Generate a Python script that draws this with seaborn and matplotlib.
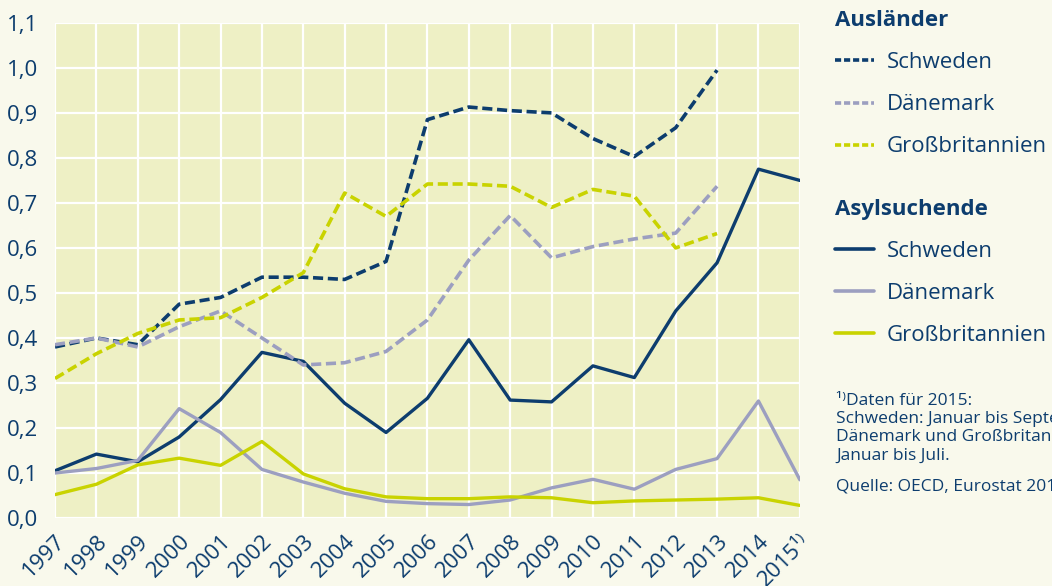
import pandas as pd
import matplotlib.pyplot as plt
import seaborn as sns
from matplotlib.lines import Line2D

sns.set_theme(style="white")
plt.rcParams['font.family'] = ['Open Sans', 'DejaVu Sans']

# Daten
jahre = list(range(1997, 2016))
jahre_labels = [str(j) for j in range(1997, 2015)] + ['2015¹⁾']

# Ausländer (bis 2013)
aus_schweden = [0.38, 0.40, 0.385, 0.475, 0.49, 0.535, 0.535, 0.53, 0.57, 0.885, 0.913, 0.905, 0.90, 0.843, 0.803, 0.867, 0.995]
aus_daenemark = [0.385, 0.40, 0.38, 0.425, 0.46, 0.40, 0.34, 0.345, 0.37, 0.44, 0.573, 0.672, 0.578, 0.603, 0.62, 0.633, 0.737]
aus_gb = [0.31, 0.365, 0.41, 0.44, 0.445, 0.49, 0.545, 0.722, 0.67, 0.742, 0.742, 0.737, 0.69, 0.73, 0.715, 0.60, 0.632]

# Asylsuchende (bis 2015)
asyl_schweden = [0.105, 0.142, 0.125, 0.18, 0.263, 0.368, 0.348, 0.255, 0.19, 0.266, 0.396, 0.262, 0.258, 0.338, 0.312, 0.46, 0.567, 0.775, 0.75]
asyl_daenemark = [0.10, 0.11, 0.128, 0.243, 0.19, 0.108, 0.08, 0.055, 0.037, 0.032, 0.03, 0.04, 0.067, 0.086, 0.064, 0.108, 0.132, 0.26, 0.085]
asyl_gb = [0.052, 0.075, 0.118, 0.133, 0.117, 0.17, 0.098, 0.065, 0.047, 0.043, 0.043, 0.047, 0.045, 0.034, 0.038, 0.040, 0.042, 0.045, 0.028]

laender = ['Schweden', 'Dänemark', 'Großbritannien']
farben = {'Schweden': '#0d3d6e', 'Dänemark': '#9c9fc0', 'Großbritannien': '#c9d300'}
navy = '#0d3d6e'

fig = plt.figure(figsize=(10.52, 5.86), dpi=100, facecolor='#f9f9ec')
ax = fig.add_axes([0.0523, 0.116, 0.708, 0.845])
ax.set_facecolor('#eef0c5')

aus_reihen = [aus_schweden, aus_daenemark, aus_gb]
asyl_reihen = [asyl_schweden, asyl_daenemark, asyl_gb]

for land, werte in zip(laender, asyl_reihen):
    sns.lineplot(x=jahre[:len(werte)], y=werte, ax=ax, color=farben[land], lw=2.4, zorder=3)
for land, werte in zip(laender, aus_reihen):
    sns.lineplot(x=jahre[:len(werte)], y=werte, ax=ax, color=farben[land], lw=2.6, zorder=4)
    ax.lines[-1].set_dashes((2.8, 1.3))

ax.set_xlim(1997, 2015)
ax.set_ylim(0, 1.1)
ax.set_xticks(jahre)
ax.set_xticklabels(jahre_labels, rotation=45, ha='right', va='top', rotation_mode='anchor')
yt = [i / 10 for i in range(12)]
ax.set_yticks(yt)
ax.set_yticklabels([f'{v:.1f}'.replace('.', ',') for v in yt])
ax.grid(True, color='white', lw=1.6)
ax.set_axisbelow(True)
for s in ax.spines.values():
    s.set_visible(False)
ax.tick_params(length=0, labelsize=16, colors=navy, pad=12)
ax.tick_params(axis='x', pad=9)

# Legenden
def handles(gestrichelt):
    if gestrichelt:
        return [Line2D([], [], color=farben[l], lw=2.6, dashes=(1.7, 0.8)) for l in laender]
    return [Line2D([], [], color=farben[l], lw=2.6) for l in laender]

opts = dict(loc='upper left', frameon=False, alignment='left', fontsize=16,
            title_fontproperties={'weight': 'bold', 'size': 16}, labelcolor=navy,
            handlelength=1.75, handletextpad=0.6, labelspacing=0.95, borderaxespad=0)
leg1 = fig.legend(handles(True), laender, bbox_to_anchor=(0.785, 0.998), title='Ausländer', **opts)
leg1.get_title().set_color(navy)
leg2 = fig.legend(handles(False), laender, bbox_to_anchor=(0.785, 0.676), title='Asylsuchende', **opts)
leg2.get_title().set_color(navy)

fig.text(0.795, 0.33, '¹⁾Daten für 2015:\nSchweden: Januar bis September,\nDänemark und Großbritannien:\nJanuar bis Juli.',
         fontsize=12.5, color=navy, va='top', ha='left', linespacing=1.2)
fig.text(0.795, 0.183, 'Quelle: OECD, Eurostat 2015', fontsize=12.5, color=navy, va='top', ha='left')

fig.savefig('out.png', dpi=100, facecolor=fig.get_facecolor())
